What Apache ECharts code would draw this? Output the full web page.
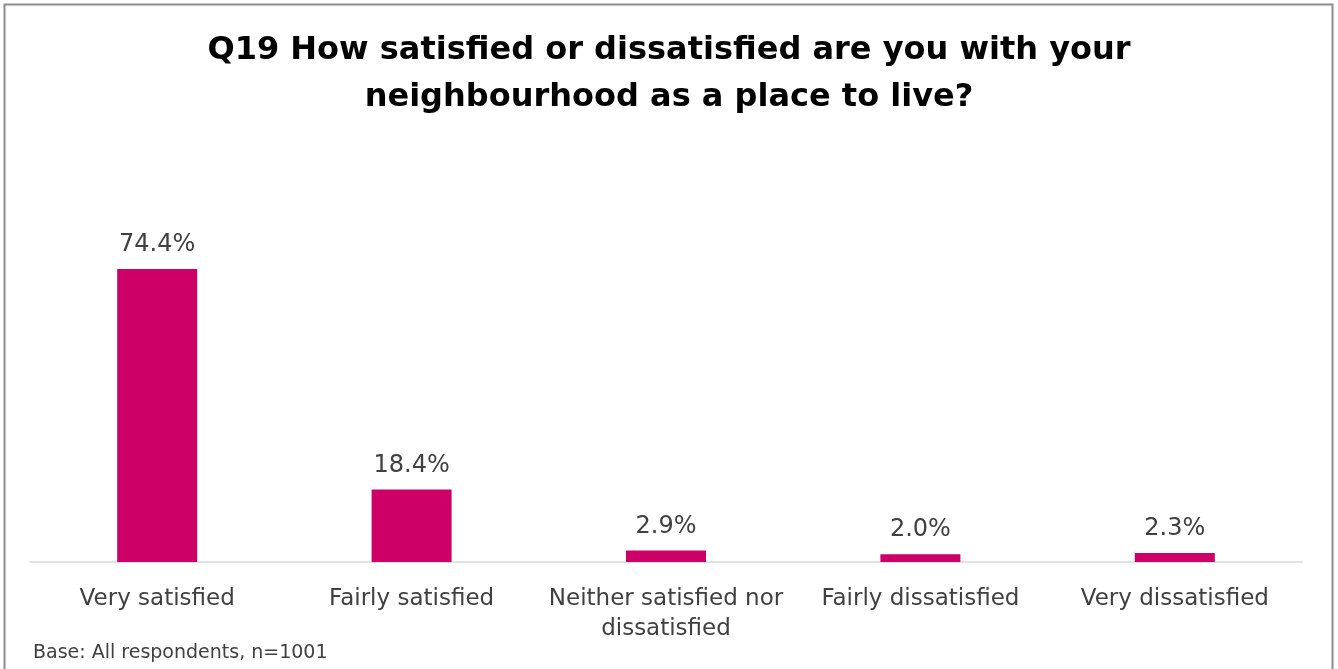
<!DOCTYPE html>
<html>
<head>
<meta charset="utf-8">
<script src="https://cdn.jsdelivr.net/npm/echarts@6/dist/echarts.min.js"></script>
<style>
html,body{margin:0;padding:0;background:#fff;}
#c{width:1338px;height:669px;}
</style>
</head>
<body>
<div id="c"></div>
<script>
const categories = ['Very satisfied', 'Fairly satisfied', 'Neither satisfied nor\ndissatisfied', 'Fairly dissatisfied', 'Very dissatisfied'];
const values = [74.4, 18.4, 2.9, 2.0, 2.3];
const titleText = 'Q19 How satisfied or dissatisfied are you with your\nneighbourhood as a place to live?';
const footnote = 'Base: All respondents, n=1001';

const chart = echarts.init(document.getElementById('c'), null, {renderer: 'canvas'});
chart.setOption({
  animation: false,
  backgroundColor: '#fff',
  title: {
    text: titleText,
    left: 'center',
    top: 22,
    textStyle: {fontFamily: 'DejaVu Sans', fontWeight: 'bold', fontSize: 32, color: '#000', lineHeight: 47}
  },
  graphic: [
    {type: 'rect', shape: {x: 4.5, y: 4.5, width: 1328, height: 680}, style: {fill: 'none', stroke: '#8c8c8c', lineWidth: 2}, silent: true},
    {type: 'text', left: 33, top: 644, style: {text: footnote, font: '19px "DejaVu Sans"', fill: '#404040'}}
  ],
  grid: {left: 30, right: 36, top: 247, bottom: 107, containLabel: false},
  xAxis: {
    type: 'category',
    data: categories,
    axisLine: {lineStyle: {color: '#d9d9d9', width: 1.5}},
    axisTick: {show: false},
    axisLabel: {fontFamily: 'DejaVu Sans', fontSize: 23, color: '#404040', margin: 22, lineHeight: 30, interval: 0}
  },
  yAxis: {
    type: 'value', min: 0, max: 80, show: false,
    splitLine: {show: false}
  },
  series: [{
    type: 'bar',
    data: values,
    barWidth: 80,
    itemStyle: {color: '#cc0066'},
    label: {
      show: true, position: 'top', distance: 12,
      formatter: p => p.value.toFixed(1) + '%',
      fontFamily: 'DejaVu Sans', fontSize: 24, color: '#404040'
    }
  }]
});
</script>
</body>
</html>
